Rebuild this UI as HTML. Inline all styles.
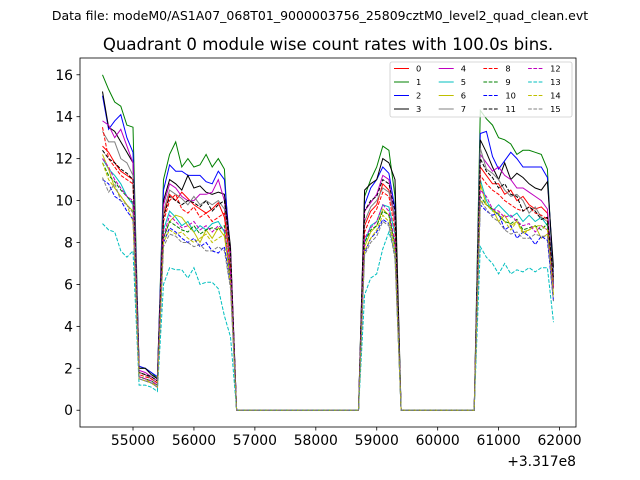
<!DOCTYPE html>
<html><head><meta charset="utf-8"><style>
body{margin:0;background:#fff}
svg{display:block;font-family:"DejaVu Sans","Liberation Sans",sans-serif}
</style></head><body>
<svg id="chart" width="640" height="480" viewBox="0 0 640 480">
<rect width="640" height="480" fill="#fff"/>
<text x="320" y="20" font-size="12.5" text-anchor="middle">Data file: modeM0/AS1A07_068T01_9000003756_25809cztM0_level2_quad_clean.evt</text>
<text x="328" y="50" font-size="16.6" text-anchor="middle">Quadrant 0 module wise count rates with 100.0s bins.</text>
<g id="plot"></g>
</svg>
<script>
const times=[54500,54600,54700,54800,54900,55000,55100,55200,55300,55400,55500,55600,55700,55800,55900,56000,56100,56200,56300,56400,56500,56600,56700,56800,56900,57000,57100,57200,57300,57400,57500,57600,57700,57800,57900,58000,58100,58200,58300,58400,58500,58600,58700,58800,58900,59000,59100,59200,59300,59400,59500,59600,59700,59800,59900,60000,60100,60200,60300,60400,60500,60600,60700,60800,60900,61000,61100,61200,61300,61400,61500,61600,61700,61800,61900];
const gapA=[0,0,0,0,0,0,0,0,0,0,0,0,0,0,0,0,0,0,0,0,0];
const gapB=[0,0,0,0,0,0,0,0,0,0,0,0,0];
const s0=[12.6,12.3,11.8,11.4,11.2,11.0,1.8,1.7,1.5,1.3, 9.3,10.3,10.0,10.4,10.1,9.8,9.6,9.4,9.6,9.9,9.2,7.0, 8.8,9.5,9.8,10.8,10.5,9.0, 11.6,11.2,10.8,10.8,10.3,10.5,10.0,10.2,9.8,9.6,9.7,9.4,6.2];
const s1=[16.0,15.3,14.7,14.5,13.6,13.5,2.0,2.0,1.8,1.5, 11.0,12.2,12.8,11.6,12.0,11.6,11.7,12.2,11.6,12.0,11.5,6.5, 10.2,11.0,11.6,12.6,12.4,10.2, 14.3,13.9,13.6,13.0,12.9,12.7,12.2,12.4,12.4,12.3,12.2,11.5,6.0];
const s2=[15.0,13.4,13.8,14.1,13.0,12.3,2.1,2.0,1.8,1.6, 10.5,11.7,11.4,11.4,11.2,11.2,11.2,10.9,10.8,11.4,11.0,7.5, 9.8,10.6,11.0,11.6,11.3,9.6, 13.2,13.3,12.1,11.5,11.9,12.3,12.0,11.6,11.6,11.6,11.6,11.1,6.5];
const s3=[15.2,13.5,13.3,12.8,12.3,11.8,2.0,2.0,1.7,1.5, 10.0,11.0,10.8,10.5,11.2,10.6,10.7,10.4,10.3,10.4,10.3,7.8, 10.5,10.8,11.0,12.0,11.8,11.0, 12.9,12.3,11.6,11.0,11.8,11.0,11.3,11.1,10.8,10.6,10.5,10.9,6.8];
const s4=[13.8,13.6,13.0,13.4,12.6,11.8,1.9,1.8,1.6,1.4, 9.8,10.8,10.6,10.2,10.0,10.0,10.3,10.3,10.4,11.0,10.0,7.5, 9.5,9.9,10.3,11.2,11.0,9.0, 12.2,11.8,11.4,11.6,11.2,11.0,10.6,10.6,10.4,10.2,10.0,9.6,6.0];
const s5=[12.0,11.5,11.2,10.8,10.2,9.8,1.6,1.5,1.4,1.2, 8.6,9.5,9.2,8.8,9.0,8.5,8.8,8.6,8.9,9.0,8.5,6.5, 8.0,8.8,9.0,9.8,9.7,8.4, 11.0,10.0,9.5,9.8,9.5,9.2,9.4,9.0,9.3,9.0,9.2,8.8,6.0];
const s6=[12.2,11.5,10.6,10.2,9.8,9.5,1.6,1.5,1.3,1.2, 8.2,9.0,9.3,9.2,8.8,8.5,8.0,8.6,8.2,8.7,8.3,6.3, 7.8,8.5,8.8,9.6,9.3,7.8, 10.8,9.8,9.6,9.0,9.3,8.8,9.0,8.5,8.6,8.8,8.2,8.4,5.5];
const s7=[13.3,12.8,12.8,12.0,11.8,11.2,1.8,1.7,1.5,1.3, 9.5,10.5,10.3,10.1,9.8,10.2,9.8,10.0,9.8,10.0,9.6,7.0, 9.0,9.7,10.0,10.6,10.4,9.2, 12.5,11.5,11.3,11.0,10.5,10.2,10.3,10.0,9.4,9.7,9.2,9.0,6.5];
const s8=[13.5,12.0,11.6,11.2,11.0,10.8,1.7,1.6,1.5,1.3, 9.0,10.0,10.3,9.6,9.4,9.7,9.2,9.4,9.0,9.2,9.4,6.8, 8.5,9.2,9.6,10.4,10.2,8.6, 11.2,10.8,10.5,10.3,10.0,9.8,9.6,9.5,9.7,9.4,9.3,9.1,5.8];
const s9=[11.8,11.2,10.9,10.5,10.2,9.9,1.6,1.5,1.4,1.2, 8.2,9.0,8.8,8.6,8.5,8.8,8.4,8.6,8.7,8.6,8.8,6.3, 8.0,8.6,8.8,9.5,9.3,7.8, 10.2,9.8,9.6,9.3,9.0,8.9,9.1,8.6,8.7,8.8,8.6,8.9,5.8];
const s10=[11.0,10.8,10.2,10.0,9.5,9.1,1.5,1.4,1.3,1.1, 8.0,8.7,8.5,8.2,8.0,8.2,7.8,8.0,7.6,7.5,7.8,6.0, 7.5,8.2,8.5,9.1,8.9,7.4, 9.8,9.5,9.3,9.4,8.6,8.8,8.2,8.5,8.3,7.9,8.3,8.1,5.2];
const s11=[12.4,12.0,11.8,11.5,11.3,11.0,1.8,1.7,1.6,1.4, 9.2,10.2,10.0,9.8,10.0,9.9,9.7,10.0,9.5,9.8,10.0,7.5, 9.5,10.0,10.2,11.0,10.8,9.5, 12.0,11.4,11.1,10.6,10.8,10.3,10.2,9.5,9.7,9.5,9.1,9.2,6.3];
const s12=[12.0,11.6,11.0,10.6,10.2,10.0,1.6,1.5,1.4,1.2, 8.3,9.3,9.0,8.7,8.8,9.0,8.6,8.8,8.5,8.8,8.6,6.5, 8.2,8.7,9.0,9.8,9.5,8.0, 10.5,10.2,9.6,9.5,9.2,9.3,9.0,8.8,8.9,8.5,8.8,8.6,5.8];
const s13=[8.9,8.6,8.5,7.6,7.3,7.6,1.2,1.2,1.1,0.9, 6.0,6.8,6.7,6.7,6.3,6.8,6.0,6.1,6.1,5.8,4.5,3.5, 5.5,6.3,6.5,7.7,8.5,7.5, 7.8,7.3,7.0,6.5,7.0,6.5,6.7,6.6,6.8,6.6,6.8,6.8,4.2];
const s14=[11.8,11.0,10.6,10.2,9.8,9.0,1.5,1.4,1.3,1.1, 8.0,8.6,8.4,8.5,8.2,8.0,8.2,8.4,8.0,8.2,8.4,6.0, 7.6,8.2,8.6,9.3,9.0,7.5, 10.0,9.8,9.5,9.4,9.0,8.6,9.0,8.4,8.6,8.8,8.8,8.6,5.5];
const s15=[11.1,10.4,10.8,10.0,9.8,9.4,1.5,1.4,1.3,1.1, 7.8,8.4,8.3,8.0,8.0,7.8,7.9,7.6,7.6,7.8,7.6,5.8, 7.4,8.0,8.3,9.0,8.8,7.2, 10.0,9.6,9.2,9.0,8.6,8.4,8.5,8.2,8.2,8.4,8.3,8.3,5.2];
const seriesRaw=[s0,s1,s2,s3,s4,s5,s6,s7,s8,s9,s10,s11,s12,s13,s14,s15];
const xTicks=[55000,56000,57000,58000,59000,60000,61000,62000];
const yTicks=[0,2,4,6,8,10,12,14,16];
const colors=["#ff0000","#008000","#0000ff","#000000","#bf00bf","#00bfbf","#bfbf00","#808080"];

const NS="http://www.w3.org/2000/svg";
const L=80,R=576,T=58,B=427;
const xmin=54130,xmax=62270,ymin=-0.8,ymax=16.8;
const xs=v=>L+(v-xmin)/(xmax-xmin)*(R-L);
const ys=v=>B-(v-ymin)/(ymax-ymin)*(B-T);
const g=document.getElementById('plot');
function mk(tag,attrs,parent){const e=document.createElementNS(NS,tag);for(const k in attrs)e.setAttribute(k,attrs[k]);(parent||g).appendChild(e);return e;}
function full(s){return s.slice(0,22).concat(gapA,s.slice(22,28),gapB,s.slice(28));}

seriesRaw.forEach((raw,i)=>{
  const vals=full(raw);
  const d=vals.map((v,j)=>(j?'L':'M')+xs(times[j]).toFixed(1)+' '+ys(v).toFixed(1)).join(' ');
  const p=mk('path',{d:d,fill:'none',stroke:colors[i%8],'stroke-width':1,'stroke-dasharray':i>=8?'3.7,1.6':'none'});
  
  
});

mk('rect',{x:L,y:T,width:R-L,height:B-T,fill:'none',stroke:'#000','stroke-width':0.8});
xTicks.forEach(v=>{
  const x=xs(v);
  mk('line',{x1:x,x2:x,y1:B,y2:B+3.5,stroke:'#000','stroke-width':0.8});
  const t=mk('text',{x:x,y:B+18,'font-size':13.9,'text-anchor':'middle'});
  t.textContent=v;
  
  
});
yTicks.forEach(v=>{
  const y=ys(v);
  mk('line',{x1:L-3.5,x2:L,y1:y,y2:y,stroke:'#000','stroke-width':0.8});
  const t=mk('text',{x:L-7,y:y+5,'font-size':13.9,'text-anchor':'end'});
  t.textContent=v;
  
  
});
const off=mk('text',{x:R,y:466,'font-size':13.9,'text-anchor':'end'});
off.textContent='+3.317e8';



const lg=mk('g',{});


mk('rect',{x:390,y:62,width:182,height:55,rx:2,fill:'#fff','fill-opacity':0.8,stroke:'#ccc','stroke-width':0.8},lg);
for(let i=0;i<16;i++){
  const col=Math.floor(i/4),row=i%4;
  const x=394+col*44.7,y=68.5+row*13.5;
  const ln=mk('line',{x1:x,x2:x+15,y1:y,y2:y,stroke:colors[i%8],'stroke-width':1,'stroke-dasharray':i>=8?'3.7,1.6':'none'},lg);
  
  
  const t=mk('text',{x:x+22,y:y+3,'font-size':8.3},lg);
  t.textContent=i;
  
  
}
</script>
</body></html>
